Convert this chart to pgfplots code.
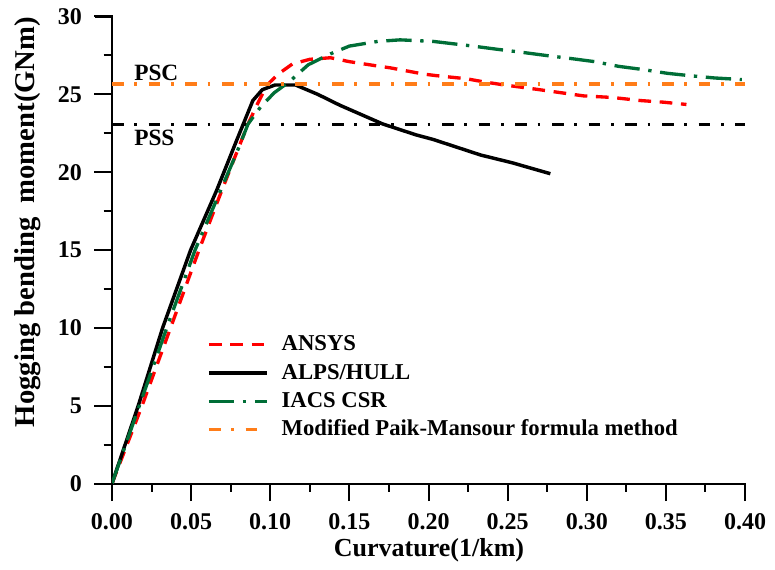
\documentclass[border=0pt]{standalone}
\usepackage{fontspec}
\setmainfont{Liberation Serif}
\usepackage{pgfplots}
\pgfplotsset{compat=1.18}
\definecolor{ansysred}{RGB}{255,0,0}
\definecolor{csrgreen}{RGB}{0,110,55}
\definecolor{pmorange}{RGB}{255,125,25}

\begin{document}
\begin{tikzpicture}
\begin{axis}[
  at={(0,0)}, anchor=south west,
  scale only axis, width=474.75pt, height=350.25pt,
  xmin=0, xmax=0.40, ymin=0, ymax=30,
  axis x line*=bottom, axis y line*=left,
  axis line style={line width=1.5pt},
  xtick={0,0.05,0.1,0.15,0.2,0.25,0.3,0.35,0.4},
  xticklabels={0.00,0.05,0.10,0.15,0.20,0.25,0.30,0.35,0.40},
  ytick={0,5,10,15,20,25,30},
  yticklabels={0,5,10,15,20,25,30},
  tick align=outside,
  major tick length=13pt,
  tick style={black, line width=1.5pt},
  tick label style={font=\fontsize{18}{20}\selectfont\bfseries},
  xticklabel style={yshift=-6pt},
  yticklabel style={xshift=-6pt},
  xlabel={Curvature(1/km)},
  ylabel={Hogging bending\ \ moment(GNm)},
  every axis x label/.style={at={(axis description cs:0.5008,-0.1424)}, anchor=center,
    font=\fontsize{19.5}{22}\selectfont\bfseries},
  every axis y label/.style={at={(axis description cs:-0.1327,0.56)}, anchor=center, rotate=90,
    font=\fontsize{21.5}{24}\selectfont\bfseries},
  legend cell align=left,
  legend image code/.code={\draw[#1] (0pt,0pt) -- (43.5pt,0pt);},
  legend style={at={(axis description cs:0.15,0.319)}, anchor=north west,
    draw=none, fill=none, inner sep=0pt, row sep=6.2pt, column sep=9.75pt,
    font=\fontsize{17}{19}\selectfont\bfseries,
    nodes={inner sep=0pt, text height=12pt, text depth=3pt}},
]

% PSS reference level
\addplot[black, line width=2.5pt, dash pattern=on 8.75pt off 8pt on 2pt off 8.75pt, forget plot]
  coordinates {(0,23.06) (0.40,23.06)};

% ANSYS
\addplot[ansysred, line width=2.5pt, dash pattern=on 9.5pt off 6.5pt] coordinates {
  (0,0) (0.019,5) (0.037,10) (0.055,15) (0.067,18.2) (0.077,20.8) (0.086,23.1)
  (0.092,24.4) (0.098,25.6) (0.105,26.3) (0.114,26.95) (0.125,27.25) (0.138,27.35)
  (0.150,27.1) (0.169,26.8) (0.176,26.7) (0.197,26.3) (0.205,26.2) (0.224,26.0)
  (0.235,25.8) (0.248,25.6) (0.263,25.4) (0.277,25.2) (0.298,24.9) (0.316,24.8)
  (0.334,24.6) (0.348,24.5) (0.363,24.35)
};
\addlegendentry{ANSYS}

% ALPS/HULL
\addplot[black, line width=2.6pt] coordinates {
  (0,0) (0.0166,5) (0.032,10) (0.0497,15) (0.066,18.8) (0.079,22.1) (0.089,24.6)
  (0.095,25.3) (0.103,25.6) (0.116,25.6) (0.130,25.0) (0.144,24.3) (0.171,23.1)
  (0.192,22.4) (0.203,22.1) (0.233,21.1) (0.253,20.6) (0.277,19.9)
};
\addlegendentry{ALPS/HULL}

% IACS CSR
\addplot[csrgreen, line width=2.5pt, dash pattern=on 19pt off 6.5pt on 2.5pt off 6.5pt] coordinates {
  (0,0) (0.0173,5) (0.0346,10) (0.0525,15) (0.066,18.2) (0.079,21.3) (0.086,23.1)
  (0.094,24.2) (0.1025,25.1) (0.1125,25.85) (0.124,26.9) (0.138,27.6) (0.150,28.1)
  (0.168,28.4) (0.182,28.5) (0.203,28.4) (0.228,28.1) (0.243,27.9) (0.259,27.7)
  (0.274,27.5) (0.290,27.3) (0.305,27.1) (0.320,26.8) (0.335,26.6) (0.351,26.35)
  (0.365,26.2) (0.381,26.05) (0.398,25.95)
};
\addlegendentry{IACS CSR}

% PSC level, modified Paik-Mansour formula
\addplot[pmorange, line width=2.5pt, dash pattern=on 8.75pt off 8pt on 2pt off 8.75pt]
  coordinates {(0,25.66) (0.40,25.66)};
\addlegendentry{Modified Paik-Mansour formula method}

\node[anchor=west, inner sep=0pt, font=\fontsize{17.5}{19}\selectfont\bfseries]
  at (axis cs:0.0139,26.4) {PSC};
\node[anchor=west, inner sep=0pt, font=\fontsize{17.5}{19}\selectfont\bfseries]
  at (axis cs:0.0139,22.2) {PSS};
\end{axis}
% outward tick marks set as rules along the axis lines (axis box 474.75pt x 350.25pt)
\foreach \i in {0,...,8}
  \node[inner sep=0pt, anchor=north] at (\i*59.34375pt,0.75pt) {\rule{1.5pt}{13.75pt}};
\foreach \i in {0,...,7}
  \node[inner sep=0pt, anchor=north] at (\i*59.34375pt+29.671875pt,0.75pt) {\rule{1.5pt}{6.75pt}};
\foreach \j in {0,...,6}
  \node[inner sep=0pt, anchor=east] at (0.75pt,\j*58.375pt) {\rule{13.75pt}{1.5pt}};
\foreach \j in {0,...,5}
  \node[inner sep=0pt, anchor=east] at (0.75pt,\j*58.375pt+29.1875pt) {\rule{6.75pt}{1.5pt}};
% page frame
\path (-84pt,-64.125pt) rectangle (497.25pt,362.625pt);
\end{tikzpicture}
\end{document}
